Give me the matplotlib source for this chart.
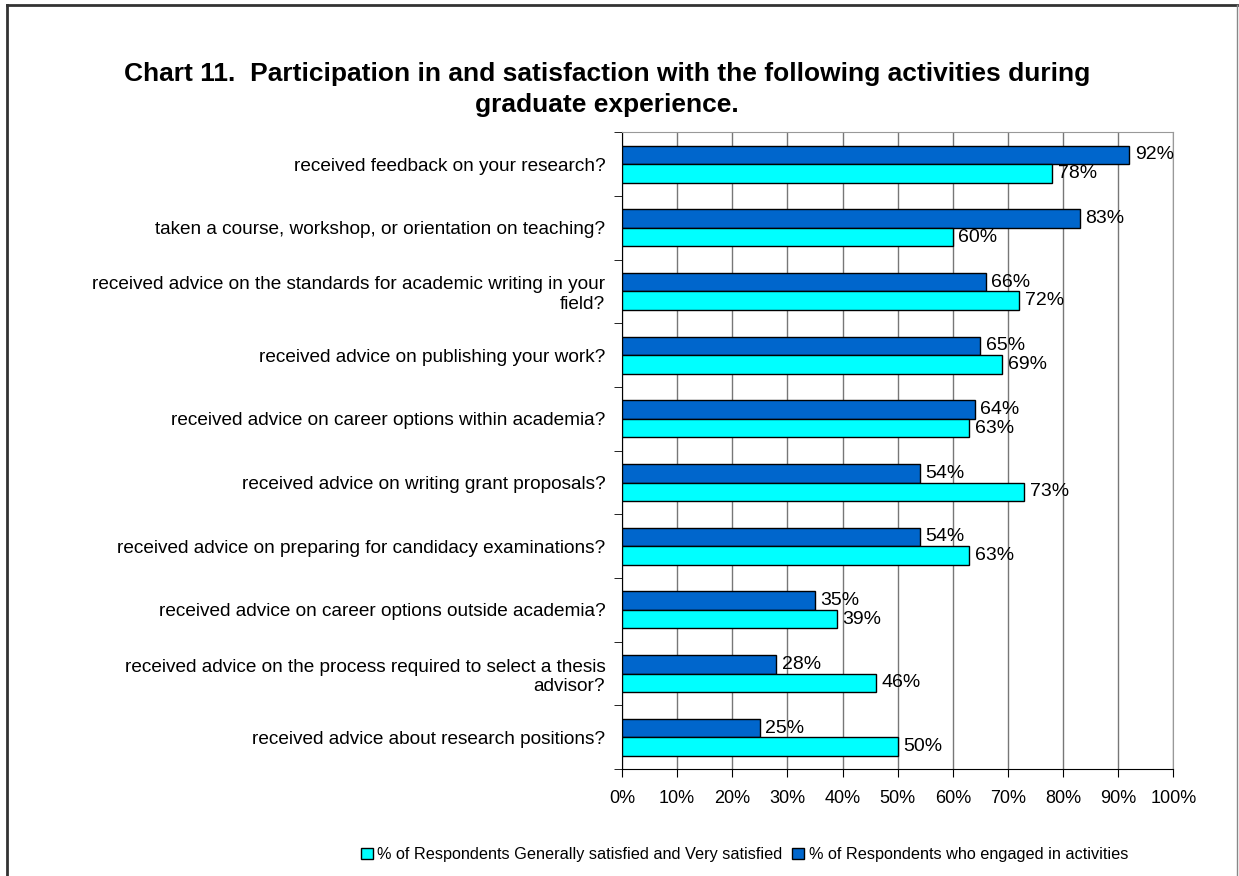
import numpy as np
import matplotlib
matplotlib.use("Agg")
import matplotlib.pyplot as plt
from matplotlib.lines import Line2D
from matplotlib.patches import Patch

plt.rcParams['font.family'] = ['Liberation Sans', 'DejaVu Sans']

categories = [
    "received feedback on your research?",
    "taken a course, workshop, or orientation on teaching?",
    "received advice on the standards for academic writing in your\nfield?",
    "received advice on publishing your work?",
    "received advice on career options within academia?",
    "received advice on writing grant proposals?",
    "received advice on preparing for candidacy examinations?",
    "received advice on career options outside academia?",
    "received advice on the process required to select a thesis\nadvisor?",
    "received advice about research positions?",
]
engaged = [92, 83, 66, 65, 64, 54, 54, 35, 28, 25]
satisfied = [78, 60, 72, 69, 63, 73, 63, 39, 46, 50]
xticks = [0, 10, 20, 30, 40, 50, 60, 70, 80, 90, 100]

name_sat = "% of Respondents Generally satisfied and Very satisfied"
name_eng = "% of Respondents who engaged in activities"
c_eng = '#0066CC'
c_sat = '#00FFFF'

fig = plt.figure(figsize=(12.39, 8.76), dpi=100)
ax = fig.add_axes([0.502, 0.122, 0.445, 0.727])

n = len(categories)
pos = np.arange(n)
h = 0.29
ax.barh(pos - h / 2, engaged, height=h, color=c_eng, edgecolor='black', linewidth=1.0, zorder=3)
ax.barh(pos + h / 2, satisfied, height=h, color=c_sat, edgecolor='black', linewidth=1.0, zorder=3)

for i in range(n):
    ax.annotate("%d%%" % engaged[i], (engaged[i], pos[i] - h / 2), xytext=(4, 0),
                textcoords='offset points', va='center', ha='left', fontsize=14, zorder=4)
    ax.annotate("%d%%" % satisfied[i], (satisfied[i], pos[i] + h / 2), xytext=(4, 0),
                textcoords='offset points', va='center', ha='left', fontsize=14, zorder=4)

ax.set_xlim(0, 100)
ax.set_ylim(n - 0.5, -0.5)
ax.set_xticks(xticks)
ax.set_xticklabels(["%d%%" % v for v in xticks], fontsize=13)
ax.set_yticks(pos)
ax.set_yticklabels(categories, fontsize=13.7)
ax.tick_params(axis='y', length=0, pad=12)
ax.set_yticks(np.arange(n + 1) - 0.5, minor=True)
ax.tick_params(axis='y', which='minor', length=6, direction='out', color='black')
ax.tick_params(axis='x', length=6, direction='out', pad=9)

ax.grid(axis='x', color='#777777', linewidth=1.0, zorder=0)
for s in ['top', 'right']:
    ax.spines[s].set_color('#999999')
for s in ['left', 'bottom']:
    ax.spines[s].set_color('black')

fig.text(0.49, 0.898, "Chart 11.  Participation in and satisfaction with the following activities during\ngraduate experience.",
         ha='center', va='center', fontsize=19, fontweight='bold', linespacing=1.35)

handles = [Patch(facecolor=c_sat, edgecolor='black', label=name_sat),
           Patch(facecolor=c_eng, edgecolor='black', label=name_eng)]
fig.legend(handles=handles, loc='center', bbox_to_anchor=(0.601, 0.024), ncol=2, frameon=False,
           fontsize=11.7, handlelength=0.7, handleheight=0.7, handletextpad=0.3, columnspacing=0.6)

# outer frame (open at the bottom)
fig.add_artist(Line2D([0.006, 0.006], [0, 0.994], transform=fig.transFigure, color='#333333', linewidth=2))
fig.add_artist(Line2D([0.006, 0.998], [0.994, 0.994], transform=fig.transFigure, color='#333333', linewidth=2))
fig.add_artist(Line2D([0.998, 0.998], [0, 0.994], transform=fig.transFigure, color='#888888', linewidth=1))

fig.savefig("out.png", dpi=100)
